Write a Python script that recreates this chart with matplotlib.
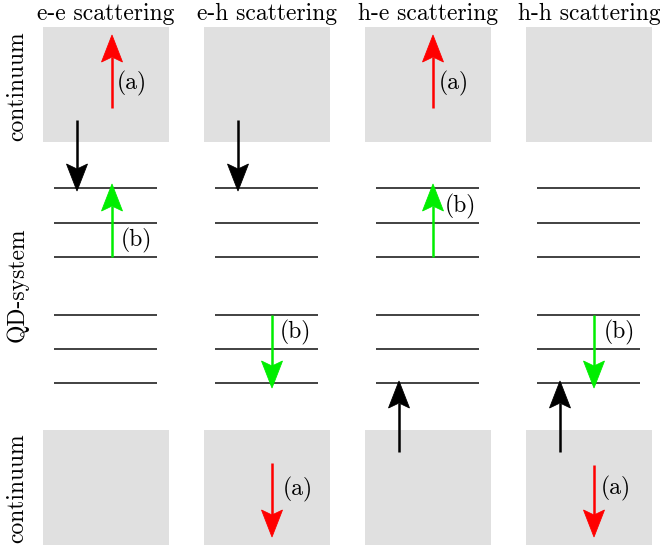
import matplotlib
matplotlib.use("Agg")
import matplotlib.pyplot as plt
from matplotlib.patches import Rectangle, Polygon

# ---- data (diagram coordinates in pixel-like units, y grows downward) ----
titles = ["e-e scattering", "e-h scattering", "h-e scattering", "h-h scattering"]
panel_left = [43, 204, 365, 526]
panel_width = 126
cont_top = [27, 142]      # upper continuum (y from, y to)
cont_bottom = [430, 545]  # lower continuum
levels_upper = [188, 223, 257]
levels_lower = [315, 349, 383]
level_inset = [11, 12]

# arrows: panel index, x offset within panel, y start, y end (tip), colour
arrow_panel = [0, 0, 0, 1, 1, 1, 2, 2, 2, 3, 3, 3]
arrow_dx    = [69, 34, 69, 34, 68, 68, 68, 34, 68, 34, 68, 68]
arrow_y0    = [108, 120, 257, 120, 315, 463, 108, 452, 257, 452, 315, 465]
arrow_y1    = [35, 191, 184, 191, 388, 537, 35, 381, 184, 381, 388, 537]
arrow_col   = ["#ff0000", "black", "#00ee00", "black", "#00ee00", "#ff0000",
               "#ff0000", "black", "#00ee00", "black", "#00ee00", "#ff0000"]

# labels: panel index, x offset, y, text
label_panel = [0, 0, 1, 1, 2, 2, 3, 3]
label_dx    = [74, 78, 76, 79, 74, 80, 78, 75]
label_y     = [83, 240, 332, 489, 83, 206, 332, 488]
label_txt   = ["(a)", "(b)", "(b)", "(a)", "(a)", "(b)", "(b)", "(a)"]

side_labels = ["continuum", "QD-system", "continuum"]
side_label_y = [86, 285, 488]

# ---- drawing ----
plt.rcParams['font.family'] = ['cmr10', 'DejaVu Serif']
W, H = 660, 550
fig = plt.figure(figsize=(6.6, 5.5), dpi=100)
ax = fig.add_axes([0, 0, 1, 1])
ax.set_xlim(0, W)
ax.set_ylim(H, 0)
ax.axis('off')

gray = "#e0e0e0"
fs = 17
head_len, head_half, notch = 27, 10.5, 5

for i, left in enumerate(panel_left):
    ax.add_patch(Rectangle((left, cont_top[0]), panel_width, cont_top[1] - cont_top[0],
                           facecolor=gray, edgecolor='none', zorder=0))
    ax.add_patch(Rectangle((left, cont_bottom[0]), panel_width, cont_bottom[1] - cont_bottom[0],
                           facecolor=gray, edgecolor='none', zorder=0))
    for y in levels_upper + levels_lower:
        ax.plot([left + level_inset[0], left + panel_width - level_inset[1]], [y, y],
                color="#333333", lw=1.3, solid_capstyle='butt', zorder=1)
    ax.text(left + panel_width / 2, 14, titles[i], ha='center', va='center', fontsize=fs)

for p, dx, y0, y1, c in zip(arrow_panel, arrow_dx, arrow_y0, arrow_y1, arrow_col):
    x = panel_left[p] + dx
    d = 1 if y1 > y0 else -1
    yb = y1 - d * head_len
    yn = y1 - d * (head_len - notch)
    ax.plot([x, x], [y0, yn], color=c, lw=1.8, solid_capstyle='butt', zorder=3)
    ax.add_patch(Polygon([(x, y1), (x + head_half, yb), (x, yn), (x - head_half, yb)],
                         closed=True, facecolor=c, edgecolor=c, lw=0.6, zorder=4))

for p, dx, y, t in zip(label_panel, label_dx, label_y, label_txt):
    ax.text(panel_left[p] + dx, y, t, ha='left', va='center', fontsize=fs)

for t, y in zip(side_labels, side_label_y):
    ax.text(17, y, t, ha='center', va='center', rotation=90, fontsize=fs)

fig.savefig("out.png", dpi=100)
